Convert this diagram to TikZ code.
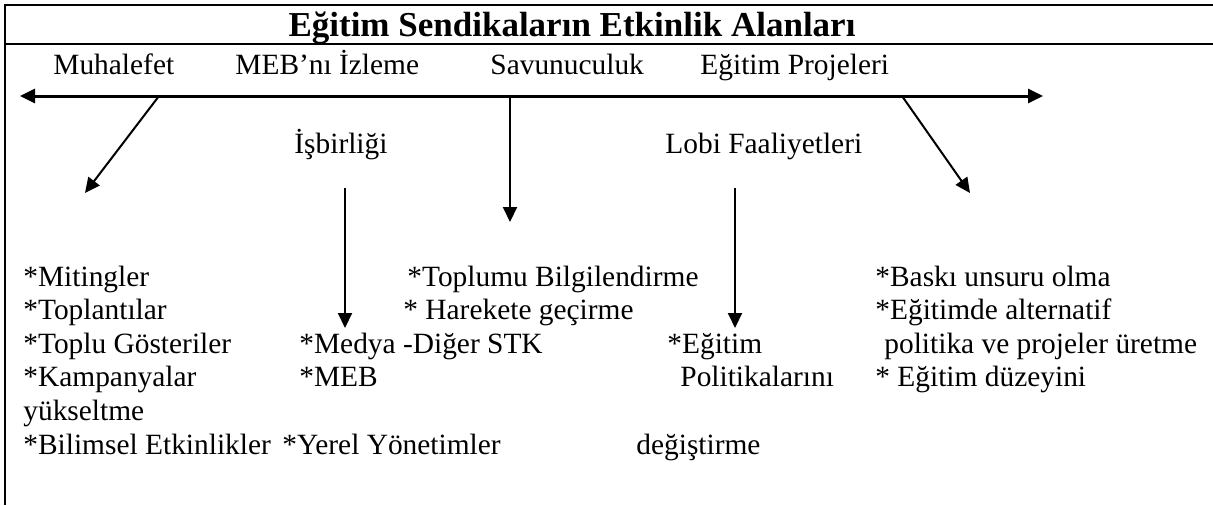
\documentclass[tikz,border=0pt]{standalone}
\usepackage{fontspec}
\setmainfont{Liberation Serif}
\usetikzlibrary{arrows.meta, positioning}

\begin{document}
\begin{tikzpicture}[
    x=0.5pt, y=-0.5pt,
    >={Triangle[length=7.5pt,width=7pt]},
    baslik/.style={anchor=base, inner sep=0pt, font=\fontsize{17.5}{20}\selectfont\bfseries},
    alan/.style={anchor=base west, inner sep=0pt, font=\fontsize{14.7}{16.8}\selectfont},
    madde/.style={anchor=base west, inner sep=0pt, font=\fontsize{14.7}{16.8}\selectfont},
    cerceve/.style={line width=0.6pt},
    eksen/.style={<->, line width=1.5pt},
    arrow/.style={->, line width=1pt}
]
\useasboundingbox (0,0) rectangle (1213,505);

% çerçeve
\draw[cerceve] (1213,5) -- (5,5) -- (5,505);
\draw[cerceve] (5,44) -- (1213,44);

% başlık
\node[baslik] (baslik) at (572,36) {Eğitim Sendikaların Etkinlik Alanları};

% etkinlik alanları
\node[alan] (muhalefet) at (53,74) {Muhalefet};
\node[alan] (izleme) at (235,74) {MEB’nı İzleme};
\node[alan] (savunu) at (490,74) {Savunuculuk};
\node[alan] (projeler) at (700,74) {Eğitim Projeleri};
\node[alan] (isbirligi) at (294,153) {İşbirliği};
\node[alan] (lobi) at (665,153) {Lobi Faaliyetleri};

% ok uçları
\coordinate (eksenL) at (20,96);
\coordinate (eksenR) at (1043,96);
\coordinate (muhBas) at (159,96);
\coordinate (muhUc) at (85,193);
\coordinate (savBas) at (510,96);
\coordinate (savUc) at (510,222);
\coordinate (prjBas) at (902,96);
\coordinate (prjUc) at (970,193);
\coordinate (isbBas) at (345,188);
\coordinate (isbUc) at (345,328);
\coordinate (lobBas) at (735,188);
\coordinate (lobUc) at (735,328);

% muhalefet
\node[madde] (miting) at (23,286) {*Mitingler};
\node[madde] (toplanti) at (23,319.6) {*Toplantılar};
\node[madde] (gosteri) at (23,353.2) {*Toplu Gösteriler};
\node[madde] (kampanya) at (23,386.8) {*Kampanyalar};
\node[madde] (yukselt) at (23,420.4) {yükseltme};
\node[madde] (bilimsel) at (23,454) {*Bilimsel Etkinlikler};

% işbirliği
\node[madde] (medya) at (299,353.2) {*Medya -Diğer STK};
\node[madde] (meb) at (299,386.8) {*MEB};
\node[madde] (yerel) at (282,454) {*Yerel Yönetimler};

% savunuculuk
\node[madde] (toplum) at (407,286) {*Toplumu Bilgilendirme};
\node[madde] (harekete) at (403,319.6) {* Harekete geçirme};

% lobi faaliyetleri
\node[madde] (egitim) at (667,353.2) {*Eğitim};
\node[madde] (politika) at (680,386.8) {Politikalarını};
\node[madde] (degistir) at (636,454) {değiştirme};

% eğitim projeleri
\node[madde] (baski) at (875,286) {*Baskı unsuru olma};
\node[madde] (alternatif) at (875,319.6) {*Eğitimde alternatif};
\node[madde] (uretme) at (884,353.2) {politika ve projeler üretme};
\node[madde] (duzey) at (875,386.8) {* Eğitim düzeyini};

% oklar
\draw[eksen] (eksenL) -- (eksenR);
\draw[arrow] (muhBas) -- (muhUc);
\draw[arrow] (savBas) -- (savUc);
\draw[arrow] (prjBas) -- (prjUc);
\draw[arrow] (isbBas) -- (isbUc);
\draw[arrow] (lobBas) -- (lobUc);

\end{tikzpicture}
\end{document}
